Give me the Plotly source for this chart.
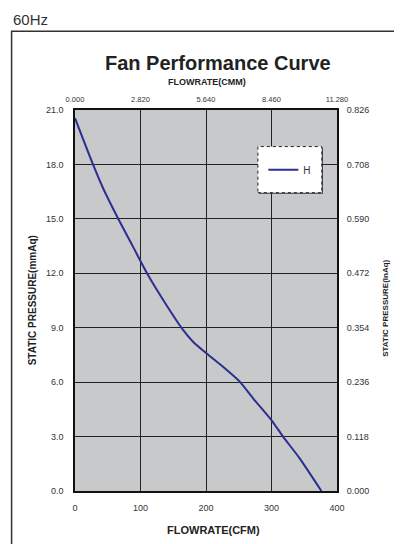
import plotly.graph_objects as go

# Curve H: flowrate (CFM) vs static pressure (mmAq)
flow_cfm = [0, 27.5, 42.7, 65.6, 88.5, 111.5, 139.5, 164.9, 180.2, 200.6, 226, 251.5, 271.8, 299.8, 317.6, 343, 376.2]
pressure_mmaq = [20.55, 18.0, 16.7, 15.03, 13.47, 11.9, 10.25, 8.88, 8.23, 7.59, 6.85, 6.03, 5.11, 3.91, 3.0, 1.8, 0.0]

# Secondary axis tick labels
cmm_ticks = [0.000, 2.820, 5.640, 8.460, 11.280]
inaq_ticks = [0.000, 0.118, 0.236, 0.354, 0.472, 0.590, 0.708, 0.826]
cfm_ticks = [0, 100, 200, 300, 400]
mmaq_ticks = [0.0, 3.0, 6.0, 9.0, 12.0, 15.0, 18.0, 21.0]

LINE = "#2b2f8f"
FONT = "Liberation Sans, Arial, sans-serif"

fig = go.Figure()
fig.add_trace(go.Scatter(x=flow_cfm, y=pressure_mmaq, mode="lines", name="H",
                         line=dict(color=LINE, width=2, shape="spline", smoothing=0.6)))
fig.add_trace(go.Scatter(x=cmm_ticks, y=inaq_ticks[:len(cmm_ticks)],
                         xaxis="x2", yaxis="y2", mode="markers", marker=dict(opacity=0),
                         showlegend=False, hoverinfo="skip"))

tickfont = dict(family=FONT, size=9, color="#333")
fig.update_layout(
    width=394, height=536,
    margin=dict(l=67, r=65, t=102, b=53),
    paper_bgcolor="white", plot_bgcolor="#c8c9cb",
    font=dict(family=FONT, color="#222"),
    xaxis=dict(range=[0, 400], tickvals=cfm_ticks, showgrid=True, gridcolor="#222", gridwidth=1,
               showline=True, linecolor="#111", linewidth=1.5, mirror=True, zeroline=False,
               ticks="outside", ticklen=7, tickcolor="rgba(0,0,0,0)", tickfont=tickfont),
    yaxis=dict(range=[0, 21], tickvals=mmaq_ticks, tickformat=".1f", showgrid=True, gridcolor="#222", gridwidth=1,
               showline=True, linecolor="#111", linewidth=1.5, mirror=True, zeroline=False,
               ticks="outside", ticklen=8, tickcolor="rgba(0,0,0,0)", tickfont=tickfont),
    xaxis2=dict(range=[0, 11.28], overlaying="x", side="top", tickvals=cmm_ticks, tickformat=".3f",
                showgrid=False, zeroline=False, showline=False,
                ticks="outside", ticklen=4, tickcolor="rgba(0,0,0,0)",
                tickfont=dict(family=FONT, size=7.5, color="#333")),
    yaxis2=dict(range=[0, 0.826], overlaying="y", side="right", tickvals=inaq_ticks, tickformat=".3f",
                showgrid=False, zeroline=False, showline=False,
                ticks="outside", ticklen=7, tickcolor="rgba(0,0,0,0)", tickfont=tickfont),
    showlegend=True,
    legend=dict(x=0.82, y=0.843, xanchor="center", yanchor="middle", bgcolor="rgba(0,0,0,0)",
                borderwidth=0, font=dict(family=FONT, size=10, color="#333"), itemwidth=30),
)

shapes = [
    # outer frame
    dict(type="rect", xref="paper", yref="paper", x0=-0.242, x1=1.35, y0=-0.35, y1=1.207,
         line=dict(color="#333", width=1.5), fillcolor="rgba(0,0,0,0)", layer="below"),
    # legend shadow
    dict(type="rect", xref="paper", yref="paper", x0=0.702, x1=0.946, y0=0.780, y1=0.901,
         line=dict(width=0), fillcolor="#333", layer="above"),
    # legend box
    dict(type="rect", xref="paper", yref="paper", x0=0.698, x1=0.942, y0=0.783, y1=0.904,
         line=dict(color="#222", width=1, dash="dot"), fillcolor="white", layer="above"),
]
fig.update_layout(shapes=shapes)

annotations = [
    dict(text="60Hz", x=-0.245, y=1.265, xanchor="left", yanchor="top",
         font=dict(family=FONT, size=15, color="#333")),
    dict(text="<b>Fan Performance Curve</b>", x=0.545, y=1.123, xanchor="center", yanchor="middle",
         font=dict(family=FONT, size=20, color="#222")),
    dict(text="<b>FLOWRATE(CMM)</b>", x=0.503, y=1.073, xanchor="center", yanchor="middle",
         font=dict(family=FONT, size=9, color="#222")),
    dict(text="<b>FLOWRATE(CFM)</b>", x=0.53, y=-0.102, xanchor="center", yanchor="middle",
         font=dict(family=FONT, size=11, color="#222")),
    dict(text="<b>STATIC PRESSURE(mmAq)</b>", x=-0.161, y=0.5, xanchor="center", yanchor="middle",
         textangle=-90, font=dict(family=FONT, size=10, color="#222")),
    dict(text="<b>STATIC PRESSURE(InAq)</b>", x=1.182, y=0.48, xanchor="center", yanchor="middle",
         textangle=-90, font=dict(family=FONT, size=8, color="#222")),
]
for a in annotations:
    a.update(xref="paper", yref="paper", showarrow=False)
fig.update_layout(annotations=annotations)

fig.write_html("out.html")
